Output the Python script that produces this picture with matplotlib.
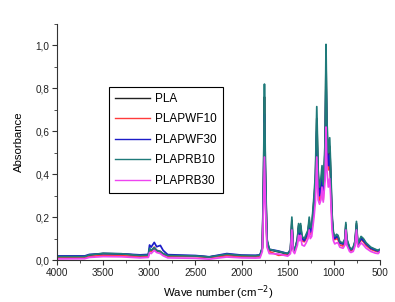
import numpy as np
import matplotlib.pyplot as plt
from matplotlib.ticker import MultipleLocator, FuncFormatter

plt.rcParams['font.family'] = ['Liberation Sans', 'DejaVu Sans']

# Wavenumber grid (cm-1)
wavenumber = [4000, 3700, 3650, 3500, 3300, 3100, 3010, 2997, 2980, 2946,
              2920, 2880, 2850, 2800, 2500, 2350, 2160, 2000, 1850, 1800,
              1775, 1762, 1752, 1742, 1725, 1700, 1600, 1500, 1470, 1455,
              1440, 1425, 1395, 1382, 1370, 1360, 1345, 1320, 1300, 1280,
              1267, 1255, 1240, 1215, 1200, 1185, 1170, 1155, 1140, 1128,
              1115, 1095, 1085, 1075, 1060, 1045, 1035, 1020, 1005, 990,
              970, 955, 935, 900, 880, 870, 860, 830, 815, 790,
              770, 755, 742, 735, 705, 680, 650, 600, 550, 520,
              505, 500]

pla = [.016, .016, .022, .030, .028, .021, .022, .050, .042, .055,
       .042, .038, .028, .020, .019, .014, .025, .020, .019, .021,
       .055, .37, .76, .42, .09, .048, .038, .028, .045, .185,
       .055, .042, .095, .16, .12, .16, .10, .095, .11, .13,
       .185, .14, .15, .28, .37, .66, .39, .32, .35, .41,
       .32, .51, .93, .60, .47, .53, .42, .20, .12, .10,
       .11, .11, .08, .075, .095, .165, .095, .057, .048, .057,
       .085, .17, .085, .076, .105, .095, .076, .057, .048, .043,
       .047, .047]

plapwf10 = [.012, .012, .016, .022, .020, .016, .018, .045, .040, .060,
            .045, .040, .028, .018, .016, .012, .020, .016, .015, .017,
            .05, .32, .64, .36, .08, .04, .022, .025, .04, .16,
            .05, .038, .085, .14, .11, .14, .09, .085, .10, .12,
            .16, .12, .13, .24, .32, .56, .33, .27, .30, .36,
            .28, .44, .80, .52, .42, .47, .37, .18, .11, .095,
            .10, .095, .07, .065, .085, .145, .085, .05, .042, .05,
            .075, .15, .075, .068, .095, .085, .068, .05, .042, .038,
            .04, .042]

plapwf30 = [.019, .019, .026, .030, .029, .024, .026, .070, .060, .082,
            .062, .068, .045, .025, .021, .015, .030, .023, .022, .024,
            .055, .35, .68, .38, .09, .05, .042, .030, .045, .17,
            .055, .045, .09, .15, .12, .15, .10, .09, .11, .13,
            .175, .13, .14, .26, .35, .60, .36, .30, .33, .40,
            .31, .48, .85, .56, .44, .49, .39, .19, .12, .10,
            .11, .105, .08, .075, .09, .155, .09, .055, .048, .055,
            .08, .16, .08, .075, .10, .09, .075, .055, .046, .042,
            .046, .046]

plaprb10 = [.016, .016, .024, .031, .029, .021, .023, .055, .045, .058,
            .045, .040, .030, .021, .019, .014, .027, .021, .020, .022,
            .06, .40, .82, .45, .10, .05, .040, .030, .05, .20,
            .06, .045, .10, .17, .13, .17, .11, .10, .12, .14,
            .20, .15, .16, .30, .40, .715, .42, .34, .38, .44,
            .35, .55, 1.005, .65, .50, .57, .45, .22, .13, .11,
            .12, .115, .085, .08, .10, .175, .10, .06, .05, .06,
            .09, .18, .09, .08, .11, .10, .08, .06, .05, .045,
            .05, .05]

plaprb30 = [.005, .006, .012, .016, .015, .010, .012, .035, .030, .045,
            .035, .030, .020, .010, .008, .004, .014, .010, .009, .010,
            .04, .25, .48, .27, .06, .03, .028, .018, .03, .14,
            .04, .03, .07, .115, .09, .115, .07, .065, .08, .10,
            .14, .10, .11, .20, .27, .48, .28, .26, .28, .34,
            .27, .37, .62, .42, .34, .38, .30, .14, .09, .075,
            .08, .08, .06, .055, .07, .14, .07, .04, .035, .04,
            .065, .14, .065, .06, .08, .07, .055, .04, .032, .03,
            .038, .04]

series = [
    ('PLA', pla, '#222222'),
    ('PLAPWF10', plapwf10, '#ff3b3b'),
    ('PLAPWF30', plapwf30, '#1c1cc8'),
    ('PLAPRB10', plaprb10, '#1f7a7a'),
    ('PLAPRB30', plaprb30, '#ee44f0'),
]

fig = plt.figure(figsize=(3.95, 3.02), dpi=100)
ax = fig.add_axes([0.1443, 0.139, 0.8177, 0.7815])

for name, vals, col in series:
    ax.plot(wavenumber, vals, color=col, linewidth=1.25, label=name)

ax.set_xlim(4000, 500)
ax.set_ylim(0, 1.1)
ax.xaxis.set_major_locator(MultipleLocator(500))
ax.xaxis.set_minor_locator(MultipleLocator(250))
ax.yaxis.set_major_locator(MultipleLocator(0.2))
ax.yaxis.set_minor_locator(MultipleLocator(0.1))
ax.yaxis.set_major_formatter(FuncFormatter(lambda v, p: f'{v:.1f}'.replace('.', ',')))

for s in ['top', 'right']:
    ax.spines[s].set_visible(False)
for s in ['left', 'bottom']:
    ax.spines[s].set_linewidth(0.8)
    ax.spines[s].set_color('#333333')

ax.tick_params(which='major', direction='out', length=3.5, width=0.8, labelsize=7.2, pad=2, colors='#333333')
ax.tick_params(which='minor', direction='out', length=2, width=0.6, colors='#333333')
ax.tick_params(labelcolor='#222222')

ax.set_ylabel('Absorbance', fontsize=8.2, labelpad=8)
ax.set_xlabel('Wave number (cm$^{-2}$)', fontsize=8.2, labelpad=4)

leg = ax.legend(loc='upper left', bbox_to_anchor=(0.161, 0.733), borderaxespad=0,
                fontsize=8.5, labelspacing=0.72, handlelength=3.0, handletextpad=0.4,
                fancybox=False, framealpha=1, edgecolor='black', borderpad=0.5)
leg.get_frame().set_linewidth(0.8)
for line in leg.get_lines():
    line.set_linewidth(1.0)

fig.savefig('out.png', dpi=100)
